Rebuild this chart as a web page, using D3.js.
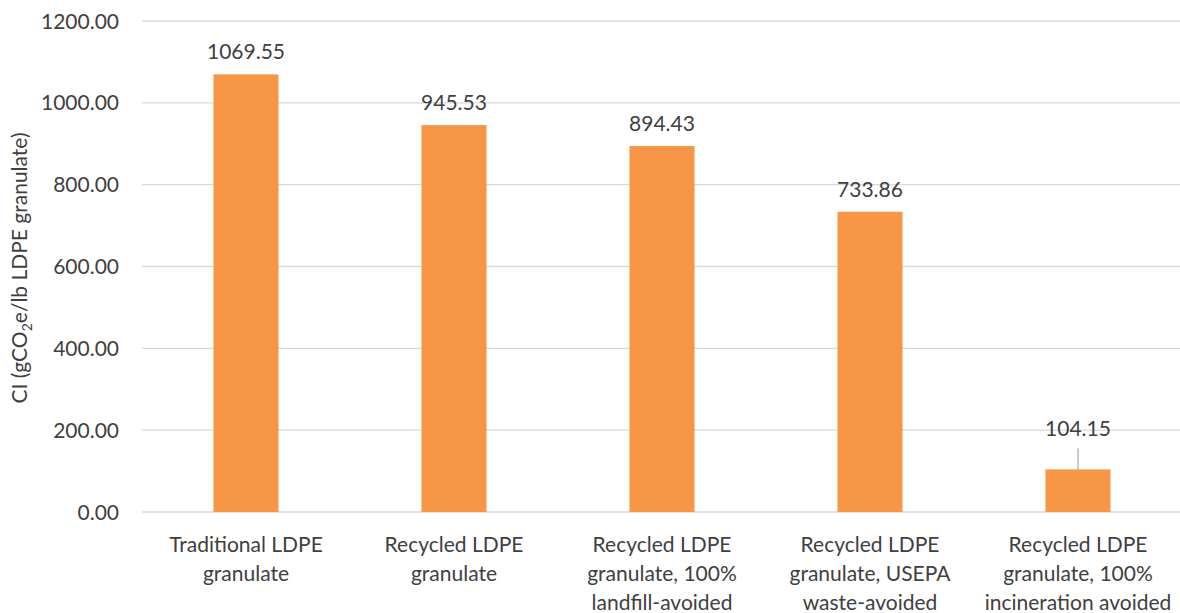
<!DOCTYPE html>
<html>
<head>
<meta charset="utf-8">
<script src="https://cdn.jsdelivr.net/npm/d3@7"></script>
<style>
  html, body { margin: 0; padding: 0; background: #fff; }
  svg text { font-family: Lato, "Open Sans", sans-serif; fill: #404040; }
</style>
</head>
<body>
<svg id="chart" width="1180" height="613"></svg>
<script>
const categories = [
  ["Traditional LDPE", "granulate"],
  ["Recycled LDPE", "granulate"],
  ["Recycled LDPE", "granulate, 100%", "landfill-avoided"],
  ["Recycled LDPE", "granulate, USEPA", "waste-avoided"],
  ["Recycled LDPE", "granulate, 100%", "incineration avoided"]
];
const values = [1069.55, 945.53, 894.43, 733.86, 104.15];
const yTicks = [0, 200, 400, 600, 800, 1000, 1200];

(function () {
const svg = d3.select("#chart");
const mLeft = 142, mRight = 1182, mTop = 21, mBottom = 512;

const x = d3.scaleBand()
  .domain(d3.range(values.length))
  .range([mLeft, mRight])
  .paddingInner(0.6875)
  .paddingOuter(0.34375);

const y = d3.scaleLinear().domain([0, 1200]).range([mBottom, mTop]);

// gridlines
svg.append("g").selectAll("line").data(yTicks).join("line")
  .attr("x1", mLeft).attr("x2", 1180)
  .attr("y1", d => y(d)).attr("y2", d => y(d))
  .attr("stroke", "#d9d9d9").attr("stroke-width", 1.3);

// y tick labels
svg.append("g").selectAll("text").data(yTicks).join("text")
  .attr("x", 119).attr("y", d => y(d)).attr("dy", "0.36em")
  .attr("text-anchor", "end").attr("font-size", 21)
  .text(d => d3.format(".2f")(d));

// bars
svg.append("g").selectAll("rect").data(values).join("rect")
  .attr("x", (d, i) => x(i)).attr("width", x.bandwidth())
  .attr("y", d => y(d)).attr("height", d => y(0) - y(d))
  .attr("fill", "#F79646");

// value labels (last one lifted with a leader line)
const lift = [0, 0, 0, 0, 18];
svg.append("g").selectAll("line").data(values.map((v, i) => [v, i]).filter(d => lift[d[1]] > 0)).join("line")
  .attr("x1", d => x(d[1]) + x.bandwidth() / 2).attr("x2", d => x(d[1]) + x.bandwidth() / 2)
  .attr("y1", d => y(d[0]) - 21).attr("y2", d => y(d[0]))
  .attr("stroke", "#a6a6a6").attr("stroke-width", 1.2);

svg.append("g").selectAll("text").data(values).join("text")
  .attr("x", (d, i) => x(i) + x.bandwidth() / 2)
  .attr("y", (d, i) => y(d) - 15 - lift[i])
  .attr("text-anchor", "middle").attr("font-size", 21)
  .text(d => d3.format(".2f")(d));

// x labels
const xl = svg.append("g").selectAll("text").data(categories).join("text")
  .attr("x", (d, i) => x(i) + x.bandwidth() / 2)
  .attr("y", 552).attr("text-anchor", "middle").attr("font-size", 21);
xl.selectAll("tspan").data(d => d).join("tspan")
  .attr("x", function() { return d3.select(this.parentNode).attr("x"); })
  .attr("dy", (d, i) => i === 0 ? 0 : 29)
  .text(d => d);

// y axis title
const t = svg.append("text")
  .attr("transform", "translate(27," + 268 + ") rotate(-90)")
  .attr("text-anchor", "middle").attr("font-size", 21);
t.append("tspan").text("CI (gCO");
t.append("tspan").text("2").attr("font-size", 14).attr("dy", 5);
t.append("tspan").text("e/lb LDPE granulate)").attr("dy", -5);
})();
</script>
</body>
</html>
